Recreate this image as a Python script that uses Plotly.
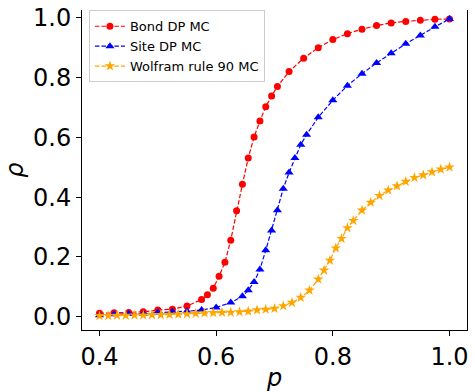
import plotly.graph_objects as go

# ---- data ----
bond_p = [0.4, 0.425, 0.45, 0.475, 0.5, 0.525, 0.55, 0.575,
          0.585, 0.595, 0.605, 0.615, 0.625, 0.635, 0.645, 0.655, 0.665, 0.675, 0.685, 0.695, 0.705,
          0.725, 0.75, 0.775, 0.8, 0.825, 0.85, 0.875, 0.9, 0.925, 0.95, 0.975, 1.0]
bond_rho = [0.011, 0.013, 0.014, 0.016, 0.022, 0.025, 0.036, 0.057,
            0.073, 0.095, 0.135, 0.182, 0.256, 0.354, 0.443, 0.531, 0.601, 0.655, 0.702, 0.738, 0.770,
            0.820, 0.865, 0.900, 0.927, 0.947, 0.962, 0.974, 0.983, 0.988, 0.992, 0.995, 0.996]

site_p = [0.4, 0.425, 0.45, 0.475, 0.5, 0.525, 0.55, 0.575, 0.6, 0.625,
          0.645, 0.655, 0.665, 0.675, 0.685, 0.695, 0.705, 0.715, 0.725, 0.735, 0.745, 0.755,
          0.775, 0.8, 0.825, 0.85, 0.875, 0.9, 0.925, 0.95, 0.975, 1.0]
site_rho = [0.005, 0.008, 0.010, 0.010, 0.014, 0.016, 0.018, 0.022, 0.031, 0.047,
            0.068, 0.088, 0.116, 0.158, 0.222, 0.288, 0.356, 0.428, 0.482, 0.531, 0.575, 0.609,
            0.667, 0.724, 0.773, 0.813, 0.849, 0.881, 0.913, 0.941, 0.970, 0.996]

wolf_p = [0.4, 0.415, 0.43, 0.445, 0.46, 0.475, 0.49, 0.505, 0.52, 0.535, 0.55, 0.565,
          0.58, 0.595, 0.61, 0.625, 0.64, 0.655, 0.67, 0.685, 0.7, 0.715, 0.73, 0.745, 0.76, 0.775,
          0.785, 0.795, 0.805, 0.815, 0.825, 0.835,
          0.85, 0.865, 0.88, 0.895, 0.91, 0.925, 0.94, 0.955, 0.97, 0.985, 1.0]
wolf_rho = [0.003, 0.003, 0.004, 0.004, 0.005, 0.005, 0.006, 0.006, 0.007, 0.008, 0.009, 0.011,
            0.012, 0.013, 0.014, 0.014, 0.016, 0.018, 0.022, 0.024, 0.027, 0.036, 0.047, 0.064, 0.088, 0.125,
            0.155, 0.188, 0.229, 0.261, 0.297, 0.321,
            0.356, 0.382, 0.405, 0.423, 0.437, 0.452, 0.465, 0.474, 0.484, 0.493, 0.500]

x_ticks = [0.4, 0.6, 0.8, 1.0]
y_ticks = [0.0, 0.2, 0.4, 0.6, 0.8, 1.0]

FONT = "DejaVu Sans"
DASH = "4.5px,2px"

fig = go.Figure()
fig.add_trace(go.Scatter(x=bond_p, y=bond_rho, mode="lines+markers", name="Bond DP MC",
                         line=dict(color="red", width=1.2, dash=DASH),
                         marker=dict(symbol="circle", size=7, color="red")))
fig.add_trace(go.Scatter(x=site_p, y=site_rho, mode="lines+markers", name="Site DP MC",
                         line=dict(color="blue", width=1.2, dash=DASH),
                         marker=dict(symbol="triangle-up", size=8, color="blue")))
fig.add_trace(go.Scatter(x=wolf_p, y=wolf_rho, mode="lines+markers", name="Wolfram rule 90 MC",
                         line=dict(color="orange", width=1.2, dash=DASH),
                         marker=dict(symbol="star", size=8, color="orange")))

fig.update_layout(
    width=475, height=392,
    margin=dict(l=82, r=8, t=4, b=60),
    paper_bgcolor="white", plot_bgcolor="white",
    font=dict(family=FONT, color="black", size=13),
    showlegend=True,
    legend=dict(x=0.018, y=0.999, xanchor="left", yanchor="top",
                bgcolor="rgba(255,255,255,0.8)", bordercolor="#cccccc", borderwidth=1,
                font=dict(family=FONT, size=13, color="black"),
                tracegroupgap=0, itemwidth=30),
    xaxis=dict(range=[0.37, 1.03], tickvals=x_ticks, ticktext=[f"{v:.1f}" for v in x_ticks],
               showgrid=False, zeroline=False, showline=True, linecolor="black", linewidth=1,
               mirror=False, ticks="outside", ticklen=5, tickwidth=1, tickcolor="black",
               tickfont=dict(family=FONT, size=24), ticklabeloverflow="allow",
               title=dict(text="<i>p</i>", font=dict(family=FONT, size=24), standoff=0)),
    yaxis=dict(range=[-0.0447, 1.0261], tickvals=y_ticks, ticktext=[f"{v:.1f}" for v in y_ticks],
               showgrid=False, zeroline=False, showline=True, linecolor="black", linewidth=1,
               mirror=True, ticks="outside", ticklen=5, tickwidth=1, tickcolor="black",
               tickfont=dict(family=FONT, size=24), ticklabeloverflow="allow",
               title=dict(text="<i>ρ</i>", font=dict(family=FONT, size=24), standoff=2)),
)

fig.write_html("out.html")
